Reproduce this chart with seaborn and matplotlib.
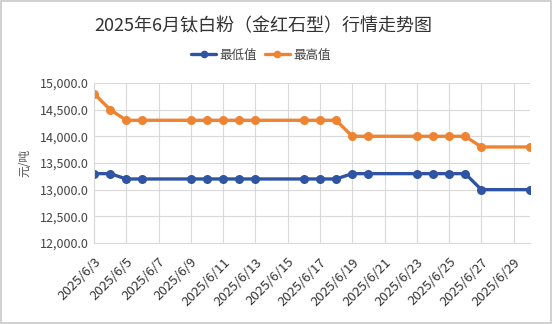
import matplotlib
matplotlib.use("Agg")
import matplotlib.pyplot as plt
import seaborn as sns
import pandas as pd
from matplotlib.lines import Line2D

dates = ["2025-06-03", "2025-06-04", "2025-06-05", "2025-06-06", "2025-06-09",
         "2025-06-10", "2025-06-11", "2025-06-12", "2025-06-13", "2025-06-16",
         "2025-06-17", "2025-06-18", "2025-06-19", "2025-06-20", "2025-06-23",
         "2025-06-24", "2025-06-25", "2025-06-26", "2025-06-27", "2025-06-30"]
min_vals = [13300, 13300, 13200, 13200, 13200, 13200, 13200, 13200, 13200, 13200,
            13200, 13200, 13300, 13300, 13300, 13300, 13300, 13300, 13000, 13000]
max_vals = [14800, 14500, 14300, 14300, 14300, 14300, 14300, 14300, 14300, 14300,
            14300, 14300, 14000, 14000, 14000, 14000, 14000, 14000, 13800, 13800]
series_names = ["最低值", "最高值"]
title = "2025年6月钛白粉（金红石型）行情走势图"
ylabel = "元/吨"

sns.set_theme(style="white")
plt.rcParams['font.family'] = ['Noto Sans CJK SC', 'DejaVu Sans']

df = pd.DataFrame({
    "date": pd.to_datetime(dates * 2),
    "value": min_vals + max_vals,
    "series": [series_names[0]] * len(dates) + [series_names[1]] * len(dates),
})

fig = plt.figure(figsize=(5.53, 3.24), dpi=100)
ax = fig.add_axes([0.170, 0.250, 0.788, 0.494])
palette = {"最低值": "#2F54A3", "最高值": "#EE8432"}
sns.lineplot(data=df, x="date", y="value", hue="series", palette=palette,
             marker="o", markersize=6.5, markeredgewidth=0, linewidth=2.4, ax=ax,
             legend=False)

start = pd.Timestamp("2025-06-03")
end = pd.Timestamp("2025-06-30")
ax.set_xlim(start, end)
ax.set_ylim(12000, 15000)
ticks = pd.date_range(start, "2025-06-29", freq="2D")
ax.set_xticks(ticks)
ax.set_xticklabels([f"{d.year}/{d.month}/{d.day}" for d in ticks], rotation=45,
                   ha="right", rotation_mode="anchor", fontsize=9.5, color="#333333")
yt = list(range(12000, 15001, 500))
ax.set_yticks(yt)
ax.set_yticklabels([f"{v:,.1f}" for v in yt], fontsize=9, color="#444444")
ax.tick_params(axis="y", length=0, pad=4)
ax.tick_params(axis="x", length=0, pad=9)
ax.grid(True, color="#D9D9D9", linewidth=0.8)
ax.set_axisbelow(True)
for s in ["top", "right"]:
    ax.spines[s].set_visible(False)
ax.spines["left"].set_color("#D9D9D9")
ax.spines["bottom"].set_color("#D9D9D9")
ax.spines["left"].set_linewidth(0.8)
ax.spines["bottom"].set_linewidth(0.8)
ax.set_xlabel("")
ax.set_ylabel(ylabel, fontsize=8.5, color="#555555", labelpad=6)

fig.text(0.477, 0.92, title, ha="center", va="center", fontsize=13, color="#333333")

handles = [Line2D([0], [0], color=palette[n], marker="o", markersize=5.5, linewidth=2.4,
                  markeredgewidth=0) for n in series_names]
fig.legend(handles, series_names, loc="center", bbox_to_anchor=(0.472, 0.83), ncol=2,
           frameon=False, fontsize=9, handlelength=2.0, columnspacing=0.6,
           handletextpad=0.3, labelcolor="#444444")

fig.patches.append(plt.Rectangle((0.002, 0.003), 0.995, 0.994, transform=fig.transFigure,
                                 fill=False, edgecolor="#C8C8C8", linewidth=1.2))
fig.savefig("out.png", dpi=100)
